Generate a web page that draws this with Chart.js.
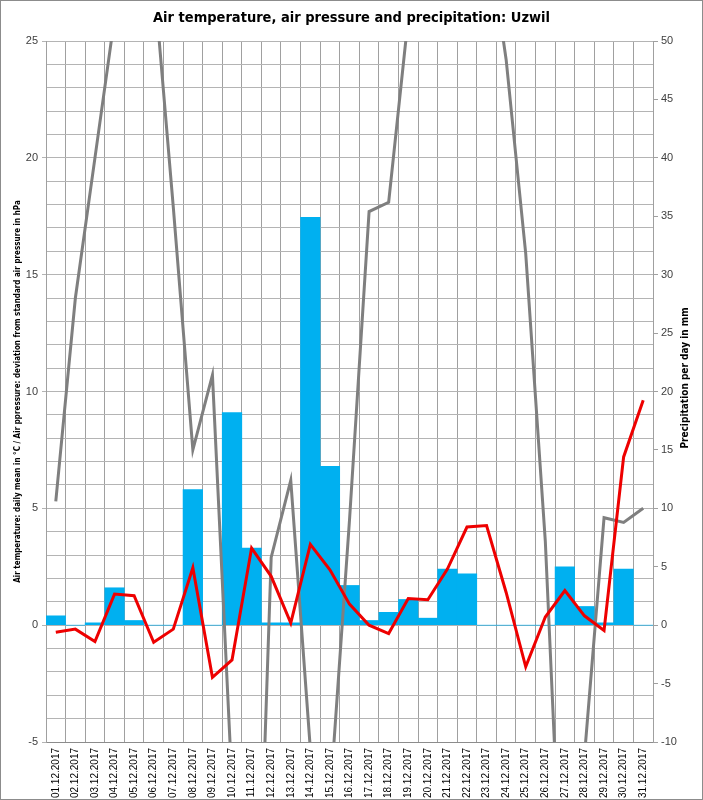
<!DOCTYPE html>
<html>
<head>
<meta charset="utf-8">
<script src="https://cdn.jsdelivr.net/npm/chart.js@4"></script>
<style>
  html, body { margin: 0; padding: 0; background: #fff; }
  canvas { display: block; }
</style>
</head>
<body>
<canvas id="chart" width="703" height="800"></canvas>
<script>
const days = [
  "01.12.2017", "02.12.2017", "03.12.2017", "04.12.2017", "05.12.2017",
  "06.12.2017", "07.12.2017", "08.12.2017", "09.12.2017", "10.12.2017",
  "11.12.2017", "12.12.2017", "13.12.2017", "14.12.2017", "15.12.2017",
  "16.12.2017", "17.12.2017", "18.12.2017", "19.12.2017", "20.12.2017",
  "21.12.2017", "22.12.2017", "23.12.2017", "24.12.2017", "25.12.2017",
  "26.12.2017", "27.12.2017", "28.12.2017", "29.12.2017", "30.12.2017",
  "31.12.2017",
];
// precipitation per day, mm (right axis)
const precipitation = [
  0.8, 0, 0.2, 3.2, 0.4, 0, 0, 11.6, 0, 18.2,
  6.6, 0.2, 0.2, 34.9, 13.6, 3.4, 0.4, 1.1, 2.2, 0.6,
  4.8, 4.4, 0, 0, 0, 0, 5.0, 1.6, 0.2, 4.8, 0,
];
// daily mean temperature, °C (left axis)
const temperature = [
  -0.3, -0.17, -0.7, 1.33, 1.26, -0.73, -0.17, 2.46, -2.23, -1.49,
  3.3, 2.09, 0.09, 3.46, 2.37, 0.9, 0.0, -0.36, 1.14, 1.09,
  2.4, 4.2, 4.26, 1.4, -1.78, 0.35, 1.48, 0.4, -0.23, 7.2, 9.63,
];
// deviation from standard air pressure, hPa (left axis, runs off the scale)
const pressure = [
  5.3, 14.0, 20.0, 26.0, 30.0, 27.8, 17.9, 7.5, 10.7, -6.8,
  -22.0, 2.9, 6.2, -5.3, -7.5, 4.5, 17.7, 18.1, 26.0, 30.0,
  31.0, 31.0, 30.0, 24.2, 15.9, 3.6, -15.0, -5.6, 4.6, 4.4, 5.0,
];

const leftTicks = { min: -5, max: 25, step: 5 };
const rightTicks = { min: -10, max: 50, step: 5 };

const narrow = "'Liberation Sans Narrow', 'DejaVu Sans Condensed', 'Liberation Sans', sans-serif";
const vGrid = "#a0a0a0";
const hGrid = "#b4b4b4";
const rightTitle = "Precipitation per day in mm";

// frame round the picture, and the right axis title that reads bottom to top
const extras = {
  id: "extras",
  afterDraw(chart) {
    const c = chart.ctx;
    c.save();
    c.strokeStyle = "#8c8c8c";
    c.lineWidth = 1;
    c.strokeRect(0.5, 0.5, chart.width - 1, chart.height - 1);
    c.translate(chart.width - 18, 378);
    c.rotate(-Math.PI / 2);
    c.fillStyle = "#000";
    c.font = "bold 10px " + narrow;
    c.textAlign = "center";
    c.textBaseline = "middle";
    c.fillText(rightTitle, 0, 0);
    c.restore();
  },
};

new Chart(document.getElementById("chart"), {
  type: "bar",
  data: {
    labels: days,
    datasets: [
      {
        type: "line",
        label: "Air temperature",
        data: temperature,
        yAxisID: "y",
        borderColor: "#ee0000",
        borderWidth: 3,
        pointRadius: 0,
        tension: 0,
        clip: 0,
        order: 0,
      },
      {
        type: "line",
        label: "Air pressure",
        data: pressure,
        yAxisID: "y",
        borderColor: "#7f7f7f",
        borderWidth: 3,
        pointRadius: 0,
        tension: 0,
        clip: 0,
        order: 1,
      },
      {
        label: "Precipitation",
        data: precipitation,
        yAxisID: "y2",
        backgroundColor: "#00b0f0",
        borderWidth: 0,
        barPercentage: 1,
        categoryPercentage: 1,
        order: 2,
      },
    ],
  },
  options: {
    responsive: false,
    animation: false,
    devicePixelRatio: 1,
    layout: { padding: 0 },
    plugins: {
      legend: { display: false },
      tooltip: { enabled: false },
      title: {
        display: true,
        text: "Air temperature, air pressure and precipitation: Uzwil",
        color: "#000",
        font: { family: narrow, size: 14.5, weight: "bold", lineHeight: 1.2 },
        padding: { top: 10, bottom: 13.6 },
      },
    },
    scales: {
      x: {
        grid: { color: vGrid, drawTicks: false },
        border: { color: "#8c8c8c" },
        ticks: {
          color: "#000",
          font: { family: "'Liberation Sans', sans-serif", size: 10 },
          minRotation: 90,
          maxRotation: 90,
          autoSkip: false,
          padding: 6,
        },
        afterFit(scale) { scale.height = 58; },
      },
      y: {
        position: "left",
        min: leftTicks.min,
        max: leftTicks.max,
        grid: {
          color: hGrid,
          tickLength: 4,
          tickColor: (ctx) => (ctx.tick && ctx.tick.value % leftTicks.step === 0 ? hGrid : "transparent"),
        },
        border: { color: vGrid },
        ticks: {
          stepSize: 1,
          color: "#404040",
          font: { family: "'Liberation Sans', sans-serif", size: 11 },
          padding: 4,
          callback: (v) => (v % leftTicks.step === 0 ? v : ""),
        },
        title: {
          display: true,
          text: "Air temperature: daily mean in °C / Air ppressure: deviation from standard air pressure in hPa",
          color: "#000",
          font: { family: narrow, size: 8, weight: "bold" },
          padding: { top: 13, bottom: 0 },
        },
        afterFit(scale) { scale.width = 46; },
      },
      y2: {
        position: "right",
        min: rightTicks.min,
        max: rightTicks.max,
        grid: { drawOnChartArea: false, color: vGrid, tickLength: 5 },
        border: { color: vGrid },
        ticks: {
          stepSize: rightTicks.step,
          color: "#404040",
          font: { family: "'Liberation Sans', sans-serif", size: 11 },
          padding: 3,
        },
        afterFit(scale) { scale.width = 50; },
      },
    },
  },
  plugins: [extras],
});
</script>
</body>
</html>
